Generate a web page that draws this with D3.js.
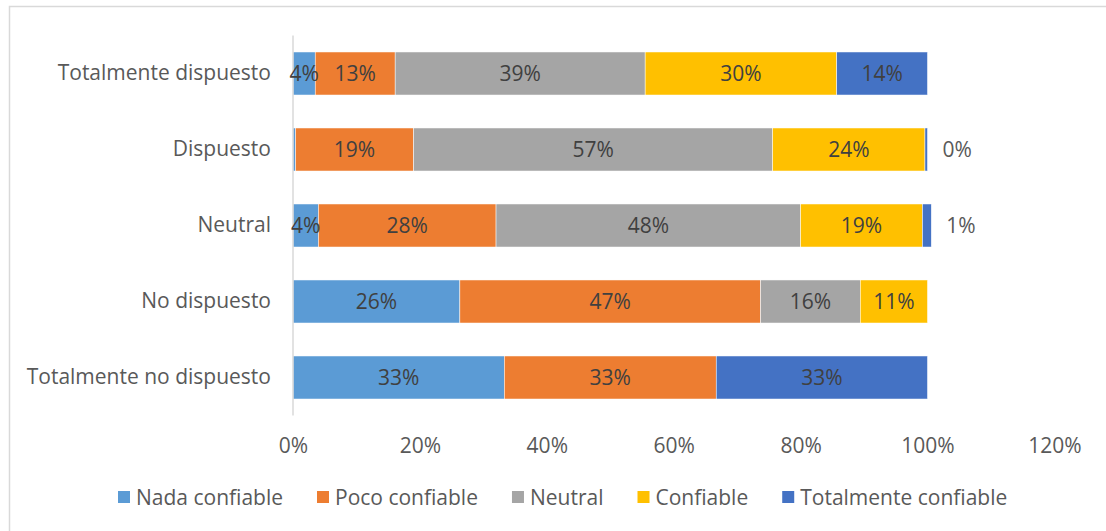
<!DOCTYPE html>
<html>
<head>
<meta charset="utf-8">
<script src="https://cdn.jsdelivr.net/npm/d3@7/dist/d3.min.js"></script>
<style>
  html, body { margin: 0; padding: 0; background: #fff; }
  svg { display: block; }
  text { font-family: "Open Sans", "Noto Sans", sans-serif; }
</style>
</head>
<body>
<svg id="chart" width="1106" height="531"></svg>
<script>
// Categories, top to bottom
const categories = ["Totalmente dispuesto", "Dispuesto", "Neutral", "No dispuesto", "Totalmente no dispuesto"];

// Series names (stack order, left to right)
const seriesNames = ["Nada confiable", "Poco confiable", "Neutral", "Confiable", "Totalmente confiable"];

// Percentages per category, one array per series
const nadaConfiable        = [3.5, 0.4, 4.0, 26.3, 33.3];
const pocoConfiable        = [12.6, 18.6, 28.0, 47.4, 33.4];
const neutral              = [39.4, 56.6, 48.0, 15.7, 0];
const confiable            = [30.2, 24.0, 19.2, 10.6, 0];
const totalmenteConfiable  = [14.3, 0.4, 1.4, 0, 33.3];

// Axis tick values (percent)
const xTicks = [0, 20, 40, 60, 80, 100, 120];

// Labels shown just past the bar end, and labels left out
const outsideLabels = [["Dispuesto", "Totalmente confiable"], ["Neutral", "Totalmente confiable"]];
const hiddenLabels = [["Dispuesto", "Nada confiable"]];

const colors = ["#5B9BD5", "#ED7D31", "#A5A5A5", "#FFC000", "#4472C4"];

const FONT_SIZE = "21px";

const seriesValues = [nadaConfiable, pocoConfiable, neutral, confiable, totalmenteConfiable];
const rows = categories.map((c, i) => {
  const r = { category: c };
  seriesNames.forEach((s, j) => { r[s] = seriesValues[j][i]; });
  return r;
});

const svg = d3.select("#chart");

// outer frame
svg.append("rect")
  .attr("x", 9.5).attr("y", 6.5)
  .attr("width", 1120).attr("height", 560)
  .attr("fill", "none")
  .attr("stroke", "#d9d9d9")
  .attr("stroke-width", 1.5);

const x = d3.scaleLinear().domain([0, 120]).range([293, 1054.4]);
const y = d3.scaleBand().domain(categories).range([35.5, 415.5])
  .paddingInner(0.434).paddingOuter(0.217);
const color = d3.scaleOrdinal().domain(seriesNames).range(colors);

const stacked = d3.stack().keys(seriesNames)(rows);

const isIn = (list, cat, key) => list.some(p => p[0] === cat && p[1] === key);

// bars
const layers = svg.append("g").selectAll("g")
  .data(stacked)
  .join("g")
  .attr("fill", d => color(d.key));

layers.selectAll("rect")
  .data(d => d.map(v => ({ key: d.key, cat: v.data.category, x0: v[0], x1: v[1] })))
  .join("rect")
  .filter(d => d.x1 - d.x0 > 0)
  .attr("x", d => x(d.x0))
  .attr("y", d => y(d.cat))
  .attr("width", d => x(d.x1) - x(d.x0))
  .attr("height", y.bandwidth())
  .attr("stroke", "#fff")
  .attr("stroke-width", 0.5);

// vertical category axis line
svg.append("line")
  .attr("x1", x(0)).attr("x2", x(0))
  .attr("y1", 35.5).attr("y2", 415.5)
  .attr("stroke", "#d9d9d9").attr("stroke-width", 1.5);

// category labels
const yAxis = svg.append("g")
  .attr("transform", `translate(${x(0) - 22},0)`)
  .call(d3.axisLeft(y).tickSize(0).tickPadding(0));
yAxis.select(".domain").remove();
yAxis.selectAll("text")
  .attr("fill", "#595959")
  .style("font-size", FONT_SIZE)
  .style("font-family", "'Open Sans', sans-serif");

// value axis labels
const xAxis = svg.append("g")
  .attr("transform", "translate(0,438)")
  .call(d3.axisBottom(x).tickValues(xTicks).tickSize(0).tickPadding(0)
    .tickFormat(d => d + "%"));
xAxis.select(".domain").remove();
xAxis.selectAll("text")
  .attr("fill", "#595959")
  .style("font-size", FONT_SIZE)
  .style("font-family", "'Open Sans', sans-serif");

// data labels
const labels = [];
stacked.forEach(layer => {
  layer.forEach(v => {
    const cat = v.data.category;
    const val = v[1] - v[0];
    if (val <= 0 || isIn(hiddenLabels, cat, layer.key)) return;
    const outside = isIn(outsideLabels, cat, layer.key);
    labels.push({
      text: Math.round(val) + "%",
      x: outside ? x(v[1]) + 15 : (x(v[0]) + x(v[1])) / 2,
      y: y(cat) + y.bandwidth() / 2,
      anchor: outside ? "start" : "middle",
      fill: outside ? "#595959" : "#404040"
    });
  });
});

svg.append("g").selectAll("text")
  .data(labels)
  .join("text")
  .attr("x", d => d.x)
  .attr("y", d => d.y)
  .attr("dy", "0.36em")
  .attr("text-anchor", d => d.anchor)
  .attr("fill", d => d.fill)
  .style("font-size", FONT_SIZE)
  .text(d => d.text);

// legend
const legend = svg.append("g").attr("transform", "translate(118,497)");
let lx = 0;
seriesNames.forEach((s, i) => {
  const g = legend.append("g").attr("transform", `translate(${lx},0)`);
  g.append("rect")
    .attr("x", 0).attr("y", -6)
    .attr("width", 12).attr("height", 12)
    .attr("fill", color(s));
  const t = g.append("text")
    .attr("x", 18).attr("y", 0).attr("dy", "0.36em")
    .attr("fill", "#595959")
    .style("font-size", FONT_SIZE)
    .text(s);
  lx += 18 + t.node().getComputedTextLength() + 34;
});
</script>
</body>
</html>
